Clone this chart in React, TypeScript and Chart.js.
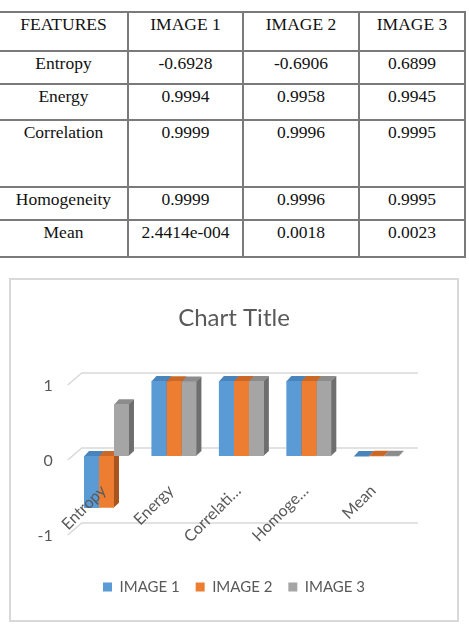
import React, { useEffect, useRef } from "react";
import { Chart, registerables } from "chart.js";

Chart.register(...registerables);

// ---- data ----
const categories = ["Entropy", "Energy", "Correlation", "Homogeneity", "Mean"];
const tickLabels = ["Entropy", "Energy", "Correlati…", "Homoge…", "Mean"];
const seriesNames = ["IMAGE 1", "IMAGE 2", "IMAGE 3"];
const image1 = [-0.6928, 0.9994, 0.9999, 0.9999, 0.00024414];
const image2 = [-0.6906, 0.9958, 0.9996, 0.9996, 0.0018];
const image3 = [0.6899, 0.9945, 0.9995, 0.9995, 0.0023];
const yTickValues = [-1, 0, 1];

const tableHeader = ["FEATURES", "IMAGE 1", "IMAGE 2", "IMAGE 3"];
const image1Text = ["-0.6928", "0.9994", "0.9999", "0.9999", "2.4414e-004"];
const image2Text = ["-0.6906", "0.9958", "0.9996", "0.9996", "0.0018"];
const image3Text = ["0.6899", "0.9945", "0.9995", "0.9995", "0.0023"];

// ---- styles ----
const frontColors = ["#5B9BD5", "#ED7D31", "#A5A5A5"];
const topColors = ["#4A84BC", "#CC6826", "#8C8C8C"];
const sideColors = ["#3A6A98", "#A8541C", "#6E6E6E"];
const textGray = "#595959";
const gridGray = "#d9d9d9";
const DX = 5;
const DY = 5;

const colW = [128, 115, 116, 106];
const rowH = [39, 33, 36, 67, 33, 37];

const threeD = {
  id: "threeD",
  beforeDatasetsDraw(chart: any) {
    const { ctx, chartArea, scales } = chart;
    const ys = scales.y;
    ctx.save();
    ctx.strokeStyle = gridGray;
    ctx.lineWidth = 1.5;
    for (const v of yTickValues) {
      const py = ys.getPixelForValue(v);
      ctx.beginPath();
      ctx.moveTo(chartArea.left - 5, py + 4);
      ctx.lineTo(chartArea.left + 9, py - 8);
      ctx.lineTo(chartArea.right + 8, py - 8);
      ctx.stroke();
    }
    chart.data.datasets.forEach((_ds: any, di: number) => {
      const meta = chart.getDatasetMeta(di);
      meta.data.forEach((bar: any) => {
        const p = bar.getProps(["x", "y", "base", "width"], true);
        const l = p.x - p.width / 2;
        const r = p.x + p.width / 2;
        const top = Math.min(p.y, p.base);
        const bot = Math.max(p.y, p.base);
        ctx.fillStyle = sideColors[di];
        ctx.beginPath();
        ctx.moveTo(r - 0.5, top);
        ctx.lineTo(r + DX, top - DY);
        ctx.lineTo(r + DX, bot - DY);
        ctx.lineTo(r - 0.5, bot);
        ctx.closePath();
        ctx.fill();
        ctx.fillStyle = topColors[di];
        ctx.beginPath();
        ctx.moveTo(l, top + 0.5);
        ctx.lineTo(l + DX, top - DY);
        ctx.lineTo(r + DX, top - DY);
        ctx.lineTo(r, top + 0.5);
        ctx.closePath();
        ctx.fill();
      });
    });
    ctx.restore();
  },
  afterDatasetsDraw(chart: any) {
    const { ctx, scales } = chart;
    const xs = scales.x;
    ctx.save();
    ctx.fillStyle = textGray;
    ctx.font = "16px Lato";
    ctx.textAlign = "right";
    ctx.textBaseline = "middle";
    tickLabels.forEach((lab, i) => {
      const px = xs.getPixelForValue(i);
      ctx.save();
      ctx.translate(px - 3, 208);
      ctx.rotate(-Math.PI / 4);
      ctx.fillText(lab, 0, 0);
      ctx.restore();
    });
    ctx.restore();
  },
};

export default function App() {
  const ref = useRef<HTMLCanvasElement>(null);

  useEffect(() => {
    const seriesValues = [image1, image2, image3];
    const chart = new Chart(ref.current as HTMLCanvasElement, {
      type: "bar",
      data: {
        labels: categories,
        datasets: seriesNames.map((name, i) => ({
          label: name,
          data: seriesValues[i],
          backgroundColor: frontColors[i],
          borderWidth: 0,
          categoryPercentage: 0.667,
          barPercentage: 1,
        })),
      },
      options: {
        responsive: false,
        animation: false,
        layout: { padding: { left: 0, right: 0, top: 0, bottom: 15.5 } },
        plugins: {
          title: {
            display: true,
            text: "Chart Title",
            color: textGray,
            font: { family: "Lato", size: 24, weight: "normal" },
            padding: { top: 23.6, bottom: 48.6 },
          },
          legend: {
            position: "bottom",
            labels: {
              boxWidth: 9,
              boxHeight: 9,
              padding: 16,
              color: textGray,
              font: { family: "Lato", size: 15 },
            },
          },
          tooltip: { enabled: false },
        },
        scales: {
          x: {
            type: "category",
            ticks: { display: false },
            grid: { display: false, drawTicks: false },
            border: { display: false },
            afterFit: (s: any) => {
              s.height = 32.5;
            },
          },
          y: {
            min: -1,
            max: 1,
            ticks: {
              stepSize: 1,
              labelOffset: 5,
              padding: 20,
              color: textGray,
              font: { family: "Lato", size: 16 },
            },
            grid: { display: false, drawTicks: false },
            border: { display: false },
            afterFit: (s: any) => {
              s.width = 61.75;
            },
          },
          y2: {
            position: "right",
            display: true,
            ticks: { display: false },
            grid: { display: false, drawTicks: false },
            border: { display: false },
            afterFit: (s: any) => {
              s.width = 47;
            },
          },
        },
      },
      plugins: [threeD],
    } as any);
    return () => chart.destroy();
  }, []);

  const bodyRows = categories.map((c, i) => [c, image1Text[i], image2Text[i], image3Text[i]]);
  const allRows = [tableHeader, ...bodyRows];

  return (
    <div style={{ position: "absolute", left: 0, top: 0, width: 469, height: 625, background: "#fff" }}>
      <table
        style={{
          position: "absolute",
          left: 0,
          top: 11,
          borderCollapse: "collapse",
          tableLayout: "fixed",
          fontFamily: '"Liberation Serif", "Times New Roman", serif',
          fontSize: 17.5,
          color: "#111",
        }}
      >
        <colgroup>
          {colW.map((w, i) => (
            <col key={i} style={{ width: w }} />
          ))}
        </colgroup>
        <tbody>
          {allRows.map((row, ri) => (
            <tr key={ri} style={{ height: rowH[ri] }}>
              {row.map((cell, ci) => (
                <td
                  key={ci}
                  style={{
                    border: "2px solid #7a7a7a",
                    borderLeft: ci === 0 ? "none" : "2px solid #7a7a7a",
                    padding: "1px 0 0 0",
                    textAlign: "center",
                    verticalAlign: "top",
                    lineHeight: "20px",
                    whiteSpace: "nowrap",
                  }}
                >
                  {cell}
                </td>
              ))}
            </tr>
          ))}
        </tbody>
      </table>
      <div
        style={{
          position: "absolute",
          left: 9,
          top: 278,
          width: 446,
          height: 340,
          border: "2px solid #d9d9d9",
        }}
      >
        <canvas ref={ref} width={446} height={340} style={{ display: "block", width: 446, height: 340 }} />
      </div>
    </div>
  );
}
